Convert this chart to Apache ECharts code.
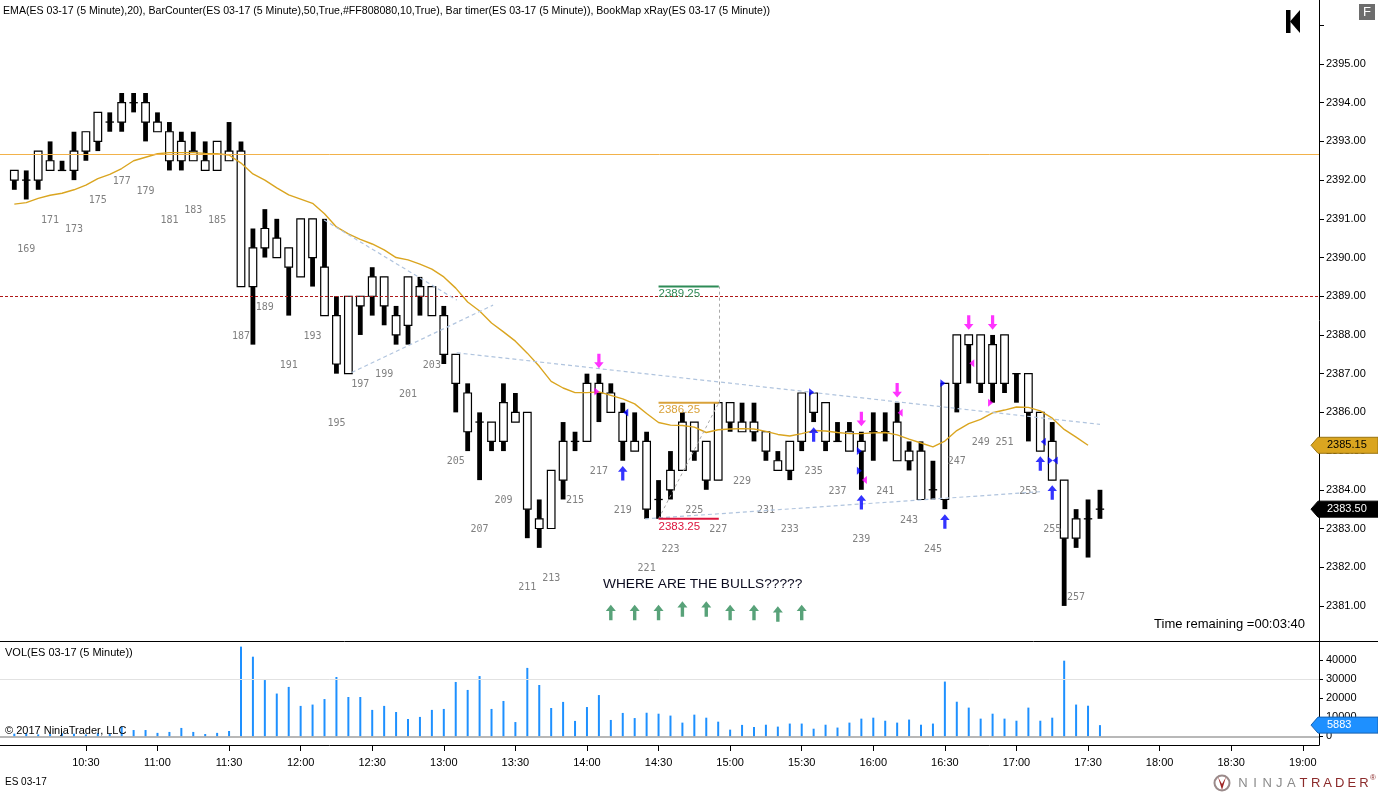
<!DOCTYPE html>
<html><head><meta charset="utf-8">
<script src="https://cdn.jsdelivr.net/npm/echarts@6/dist/echarts.min.js"></script>
<style>html,body{margin:0;padding:0;background:#fff}#c{width:1378px;height:792px}</style>
</head><body><div id="c"></div>
<script>
// ---------- data ----------
const firstBar = 168;
const times = [
 '10:00','10:05','10:10','10:15','10:20','10:25','10:30','10:35','10:40','10:45','10:50','10:55',
 '11:00','11:05','11:10','11:15','11:20','11:25','11:30','11:35','11:40','11:45','11:50','11:55',
 '12:00','12:05','12:10','12:15','12:20','12:25','12:30','12:35','12:40','12:45','12:50','12:55',
 '13:00','13:05','13:10','13:15','13:20','13:25','13:30','13:35','13:40','13:45','13:50','13:55',
 '14:00','14:05','14:10','14:15','14:20','14:25','14:30','14:35','14:40','14:45','14:50','14:55',
 '15:00','15:05','15:10','15:15','15:20','15:25','15:30','15:35','15:40','15:45','15:50','15:55',
 '16:00','16:05','16:10','16:15','16:20','16:25','16:30','16:35','16:40','16:45','16:50','16:55',
 '17:00','17:05','17:10','17:15','17:20','17:25','17:30','17:35'];
const open = [
 2392.25,2392,2392,2392.5,2392.25,2392.25,2392.75,2393,2393.5,2393.5,2394,2394,
 2393.5,2393.25,2392.5,2392.75,2392.5,2392.25,2392.75,2392.75,2389.25,2390.25,2390.5,2390.25,
 2389.5,2391,2389.75,2388.5,2387,2389,2389,2389.5,2388.5,2388.25,2389.25,2389.25,
 2388.5,2387.5,2386.5,2385.75,2385.75,2385.25,2386,2386,2383.25,2383,2384.25,2385.25,
 2385.25,2386.75,2386.5,2386,2385.25,2385.25,2383.75,2384,2384.5,2385.75,2385.25,2384.25,
 2386.25,2385.75,2385.5,2385.5,2384.75,2384.5,2385.25,2386.5,2386.25,2385.25,2385.5,2385,
 2385.5,2385.5,2385.75,2385,2385,2384,2383.75,2386.75,2388,2386.75,2387.75,2386.75,
 2387,2387,2386,2385.25,2384.25,2382.75,2383.25,2383.5];
const high = [
 2392.25,2392.25,2392.75,2393,2392.5,2393.25,2393.25,2393.75,2393.75,2394.25,2394.25,2394.25,
 2393.75,2393.5,2393.25,2393.25,2393,2393,2393.5,2393,2390.75,2391.25,2391,2390.25,
 2391,2391,2391,2389,2389,2389,2389.75,2389.5,2388.75,2389.5,2389.5,2389.25,
 2388.75,2387.5,2386.75,2386,2385.75,2386.75,2386.5,2386,2383.75,2384.5,2385.75,2385.5,
 2387,2387,2386.75,2386.25,2386,2385.5,2384.25,2385,2386,2385.75,2385.25,2386.25,
 2386.25,2386.25,2386.25,2385.5,2385,2385.25,2386.5,2386.5,2386.25,2385.75,2385.75,2385.5,
 2386,2386,2386.25,2385.25,2385.25,2384.75,2386.75,2388,2388,2388,2388,2388,
 2387,2387,2386,2385.75,2384.25,2383.5,2383.75,2384];
const low = [
 2391.75,2391.5,2391.75,2392.25,2392.25,2392,2392.5,2392.75,2393.25,2393.25,2393.75,2393,
 2393.25,2392.25,2392.25,2392.5,2392.25,2392.25,2392.5,2389.25,2387.75,2390,2390,2388.5,
 2389.5,2389.25,2388.5,2387,2387,2388,2388.5,2388.25,2387.75,2387.75,2388.5,2388.5,
 2387.25,2386,2385,2384.25,2385,2385,2385.75,2382.75,2382.5,2383,2383.75,2385,
 2385.25,2385.75,2386,2384.75,2385,2383.25,2383.25,2383.75,2384.5,2384.75,2384,2384.25,
 2385.5,2385.5,2385.25,2384.75,2384.5,2384.25,2385,2385.75,2385,2385.25,2385,2384,
 2384.75,2385.25,2384.75,2384.5,2383.75,2383.75,2383.5,2386,2386.75,2386.5,2386.25,2386.5,
 2386.25,2385.25,2385,2384.25,2381,2382.5,2382.25,2383.25];
const close = [
 2392,2392,2392.75,2392.25,2392.25,2392.75,2393.25,2393.75,2393.5,2394,2394,2393.5,
 2393.25,2392.5,2393,2392.5,2392.25,2393,2392.5,2389.25,2390.25,2390.75,2390,2389.75,
 2391,2390,2388.5,2387.25,2389,2388.75,2389.5,2388.75,2388,2389.5,2389,2388.5,
 2387.5,2386.75,2385.5,2385.75,2385.25,2386.25,2385.75,2383.5,2383,2384.5,2385.25,2385.25,
 2386.75,2386.5,2386,2385.25,2385,2383.5,2383.75,2384.5,2385.75,2385,2384.25,2386.25,
 2385.75,2385.5,2385.75,2385,2384.5,2385.25,2386.5,2386,2385.25,2385.25,2385,2385.25,
 2385.5,2385.5,2384.75,2384.75,2383.75,2384,2386.75,2388,2387.75,2388,2386.75,2388,
 2387,2386,2385,2384.25,2382.75,2383.25,2383.25,2383.5];
const volume = [
 1400,1600,1000,1200,1600,1400,1000,1700,1200,5000,3300,3300,
 1800,2300,4400,2300,1200,1800,2800,47200,41900,29600,22500,26000,
 16000,16700,19600,31200,20700,20700,13900,16000,12800,9100,10200,13900,
 14400,28600,24400,31700,14400,18600,7500,36000,27000,14900,18100,8100,
 15400,21700,8600,12300,9600,12400,11900,10900,7200,11400,9800,7700,
 3500,6000,4900,6100,5100,6700,6700,4000,6100,4600,7200,9300,
 9800,8200,7200,8800,6100,6700,28800,18200,15100,9300,11900,9300,
 8200,15100,8200,9800,39800,16700,16100,5883];
const ema20 = [
 2391.38,2391.42,2391.53,2391.61,2391.66,2391.75,2391.87,2392.04,2392.15,2392.30,2392.50,2392.59,
 2392.68,2392.71,2392.71,2392.71,2392.69,2392.68,2392.65,2392.44,2392.16,2392.00,2391.80,2391.62,
 2391.51,2391.40,2391.13,2390.79,2390.61,2390.47,2390.35,2390.20,2390.00,2389.94,2389.83,2389.70,
 2389.50,2389.21,2388.85,2388.62,2388.31,2388.08,2387.84,2387.53,2387.19,2386.80,2386.63,2386.51,
 2386.51,2386.53,2386.44,2386.35,2386.22,2385.97,2385.74,2385.67,2385.66,2385.62,2385.48,2385.55,
 2385.57,2385.58,2385.57,2385.51,2385.43,2385.39,2385.45,2385.53,2385.52,2385.48,2385.45,2385.45,
 2385.47,2385.48,2385.42,2385.31,2385.21,2385.11,2385.26,2385.53,2385.71,2385.82,2385.99,2386.06,
 2386.14,2386.13,2386.04,2385.85,2385.56,2385.36,2385.15,null];

const priceTicks = [2381,2382,2383,2384,2385,2386,2387,2388,2389,2390,2391,2392,2393,2394,2395,2396];
const priceLabels = [2381,2382,2383,2384,2385,2386,2387,2388,2389,2390,2391,2392,2393,2394,2395];
const volumeTicks = [0,10000,20000,30000,40000];
const timeTicks = ['10:30','11:00','11:30','12:00','12:30','13:00','13:30','14:00','14:30','15:00','15:30','16:00','16:30','17:00','17:30','18:00','18:30','19:00'];

// drawings (bar number, price)
const horizLineOrange = 2392.67;
const horizLineRed = 2389.0;
const trendLines = [
 [193.96, 2390.97, 205.08, 2388.90],
 [196.28, 2387.03, 208.13, 2388.77],
 [205.08, 2387.54, 259.0, 2385.69],
 [220.87, 2383.25, 253.98, 2383.95]];
const measureLines = [
 [222.0, 2383.25, 227.05, 2386.25],
 [227.05, 2386.25, 227.05, 2389.25]];
const levelPrices = [2389.25, 2386.25, 2383.25];
const levelFromBar = 222.0, levelToBar = 227.05;
const sellArrows = [[217,2387.33],[239,2385.83],[242,2386.57],[248,2388.32],[250,2388.32]];
const buyArrows = [[219,2384.43],[235,2385.43],[239,2383.68],[246,2383.18],[254,2384.68],[255,2383.93]];
const blueRightTri = [[235,2386.52],[239,2385.0],[239,2384.49],[246,2386.75],[255,2384.76]];
const blueLeftTri = [[219,2386.0],[254,2385.24],[255,2384.76]];
const magRightTri = [[217,2386.54],[250,2386.25]];
const magLeftTri = [[239,2384.25],[242,2385.99],[248,2387.27]];
const bullArrows = [[218,2380.83],[220,2380.83],[222,2380.83],[224,2380.92],[226,2380.92],[228,2380.83],[230,2380.83],[232,2380.79],[234,2380.83]];
const lastClose = 2383.50, lastEma = 2385.15, lastVolume = 5883;

// ---------- helpers ----------
const FONT = '"Liberation Sans", Arial, sans-serif';
const toMin = s => { const p = s.split(':'); return (+p[0]) * 60 + (+p[1]); };
const fmtTime = m => String(Math.floor(m / 60)).padStart(2, '0') + ':' + String(Math.round(m % 60)).padStart(2, '0');
const x0 = toMin(times[0]);
const barX = n => x0 + (n - firstBar) * 5;
const pts = arr => arr.map(a => [barX(a[0]), a[1]]);
const lastBar = firstBar + times.length - 1;

const candleData = times.map((t, i) => [toMin(t), open[i], high[i], low[i], close[i]]);
const counterData = times.map((t, i) => [toMin(t), low[i], firstBar + i]);
const emaData = times.map((t, i) => [toMin(t), ema20[i]]);
const volData = times.map((t, i) => [toMin(t), volume[i]]);

const upPath = 'path://M5,0L10,6L6.7,6L6.7,15L3.3,15L3.3,6L0,6Z';
const downPath = 'path://M3.3,0L6.7,0L6.7,9L10,9L5,15L0,9L3.3,9Z';

const chart = echarts.init(document.getElementById('c'), null, {renderer: 'canvas'});

const XMIN = 594, XMAX = 1146.8;

function triSeries(data, color, dir) {
  return {type: 'scatter', xAxisIndex: 0, yAxisIndex: 0, data: pts(data), symbol: 'triangle',
    symbolSize: [8, 5], symbolRotate: dir === 'right' ? -90 : 90,
    symbolOffset: [dir === 'right' ? -2 : 3, 0],
    itemStyle: {color: color}, z: 6, silent: true};
}

const levelColors = ['#2E8B57', '#D9A23A', '#DC143C'];
const markerFill = ['#DAA520', '#000000'];
const markerStroke = ['#9a7410', '#000000'];
const markerText = ['#000000', '#ffffff'];

const option = {
  animation: false,
  grid: [
    {left: 0, top: 0, width: 1319, height: 641},
    {left: 0, top: 641, width: 1319, height: 104}
  ],
  xAxis: [
    {type: 'value', gridIndex: 0, min: XMIN, max: XMAX, show: false, splitLine: {show: false}},
    {type: 'value', gridIndex: 1, min: XMIN, max: XMAX,
      axisLine: {show: true, onZero: false, lineStyle: {color: '#000', width: 1}},
      axisTick: {show: true, customValues: timeTicks.map(toMin), length: 6, lineStyle: {color: '#000'}},
      axisLabel: {customValues: timeTicks.map(toMin), formatter: v => fmtTime(v), margin: 12,
        fontSize: 11, color: '#000', fontFamily: FONT},
      splitLine: {show: false}}
  ],
  yAxis: [
    {type: 'value', gridIndex: 0, position: 'right', min: 2380.094, max: 2396.653,
      axisLine: {show: true, onZero: false, lineStyle: {color: '#000'}},
      axisTick: {show: true, customValues: priceTicks, length: 5, lineStyle: {color: '#000'}},
      axisLabel: {customValues: priceLabels, formatter: v => v.toFixed(2), margin: 7,
        fontSize: 11, color: '#000', fontFamily: FONT},
      splitLine: {show: false}},
    {type: 'value', gridIndex: 1, position: 'right', min: -4579, max: 50158,
      axisLine: {show: true, onZero: false, lineStyle: {color: '#000'}},
      axisTick: {show: true, customValues: volumeTicks, length: 4, lineStyle: {color: '#000'}},
      axisLabel: {customValues: volumeTicks, formatter: v => String(v), margin: 7,
        fontSize: 11, color: '#000', fontFamily: FONT},
      splitLine: {show: false}}
  ],
  series: [
    {type: 'custom', name: 'candles', xAxisIndex: 0, yAxisIndex: 0, z: 2, silent: true,
      data: candleData, encode: {x: 0, y: [1, 2, 3, 4]},
      renderItem: (params, api) => {
        const t = api.value(0);
        const pO = api.coord([t, api.value(1)]), pH = api.coord([t, api.value(2)]);
        const pL = api.coord([t, api.value(3)]), pC = api.coord([t, api.value(4)]);
        const x = pH[0];
        const top = Math.min(pO[1], pC[1]), bot = Math.max(pO[1], pC[1]);
        const children = [
          {type: 'rect', shape: {x: x - 2.4, y: pH[1], width: 4.8, height: pL[1] - pH[1]}, style: {fill: '#000'}}
        ];
        if (bot - top < 1) {
          children.push({type: 'line', shape: {x1: x - 4.2, y1: top, x2: x + 4.2, y2: top}, style: {stroke: '#000', lineWidth: 1.3}});
        } else {
          children.push({type: 'rect', shape: {x: x - 3.8, y: top, width: 7.6, height: bot - top},
            style: {fill: '#fff', stroke: '#000', lineWidth: 1.2}});
        }
        return {type: 'group', children: children};
      }},
    {type: 'custom', name: 'counter', xAxisIndex: 0, yAxisIndex: 0, z: 2, silent: true,
      data: counterData, encode: {x: 0, y: 1},
      renderItem: (params, api) => {
        const n = api.value(2);
        if (n % 2 === 0 || n === lastBar) return null;
        const p = api.coord([api.value(0), api.value(1)]);
        return {type: 'text', style: {x: p[0], y: p[1] + 49.5, text: String(n), fill: '#808080',
          font: '10px "DejaVu Sans Mono", monospace', align: 'center', verticalAlign: 'middle'}};
      }},
    {type: 'line', name: 'EMA', xAxisIndex: 0, yAxisIndex: 0, data: emaData, showSymbol: false, z: 4,
      silent: true, lineStyle: {color: '#DAA520', width: 1.4}, itemStyle: {color: '#DAA520'},
      markLine: {symbol: ['none', 'none'], silent: true, label: {show: false}, animation: false,
        data: [
          {yAxis: horizLineOrange, lineStyle: {color: '#F2B24A', width: 1, type: 'solid'}},
          {yAxis: horizLineRed, lineStyle: {color: '#B01818', width: 1, type: [3, 2]}}
        ].concat(trendLines.map(l => [
          {coord: [barX(l[0]), l[1]], lineStyle: {color: '#B0C4DE', width: 1.2, type: [4, 3]}},
          {coord: [barX(l[2]), l[3]]}
        ])).concat(measureLines.map(l => [
          {coord: [barX(l[0]), l[1]], lineStyle: {color: '#A9A9A9', width: 1, type: [3, 3]}},
          {coord: [barX(l[2]), l[3]]}
        ]))
      }},
    {type: 'custom', name: 'levels', xAxisIndex: 0, yAxisIndex: 0, z: 5, silent: true,
      data: levelPrices.map(p => [barX(levelFromBar), barX(levelToBar), p]), encode: {x: [0, 1], y: 2},
      renderItem: (params, api) => {
        const a = api.coord([api.value(0), api.value(2)]), b = api.coord([api.value(1), api.value(2)]);
        const c = levelColors[params.dataIndex];
        return {type: 'group', children: [
          {type: 'line', shape: {x1: a[0], y1: a[1], x2: b[0], y2: b[1]}, style: {stroke: c, lineWidth: 2}},
          {type: 'text', style: {x: a[0], y: a[1] + 7.5, text: api.value(2).toFixed(2), fill: c,
            font: '11.5px ' + FONT, align: 'left', verticalAlign: 'middle'}}
        ]};
      }},
    {type: 'scatter', name: 'sell', xAxisIndex: 0, yAxisIndex: 0, data: pts(sellArrows), symbol: downPath,
      symbolSize: [9.5, 14.5], itemStyle: {color: '#FF00FF'}, z: 6, silent: true},
    {type: 'scatter', name: 'buy', xAxisIndex: 0, yAxisIndex: 0, data: pts(buyArrows), symbol: upPath,
      symbolSize: [9.5, 14.5], itemStyle: {color: '#0000FF'}, z: 6, silent: true},
    triSeries(blueRightTri, '#0000FF', 'right'),
    triSeries(blueLeftTri, '#0000FF', 'left'),
    triSeries(magRightTri, '#FF00FF', 'right'),
    triSeries(magLeftTri, '#FF00FF', 'left'),
    {type: 'scatter', name: 'bulls', xAxisIndex: 0, yAxisIndex: 0, data: pts(bullArrows), symbol: upPath,
      symbolSize: [10, 15.5], itemStyle: {color: '#2E8B57'}, z: 6, silent: true},
    {type: 'custom', name: 'priceMarkers', xAxisIndex: 0, yAxisIndex: 0, z: 20, clip: false, silent: true,
      data: [[600, lastEma], [600, lastClose]], encode: {x: 0, y: 1},
      renderItem: (params, api) => {
        const y = api.coord([api.value(0), api.value(1)])[1];
        const i = params.dataIndex;
        return {type: 'group', children: [
          {type: 'polygon', shape: {points: [[1311, y], [1318, y - 8], [1378, y - 8], [1378, y + 8], [1318, y + 8]]},
            style: {fill: markerFill[i], stroke: markerStroke[i], lineWidth: 1}},
          {type: 'text', style: {x: 1327, y: y, text: api.value(1).toFixed(2), fill: markerText[i],
            font: '11px ' + FONT, align: 'left', verticalAlign: 'middle'}}
        ]};
      }},
    {type: 'bar', name: 'VOL', xAxisIndex: 1, yAxisIndex: 1, data: volData, barWidth: 2, z: 3,
      itemStyle: {color: '#1E90FF'}, silent: true,
      markLine: {symbol: ['none', 'none'], silent: true, label: {show: false}, animation: false,
        data: [
          {yAxis: 0, lineStyle: {color: '#A0A0A0', width: 1.5, type: 'solid'}},
          {yAxis: 30000, lineStyle: {color: '#E2E2E2', width: 1, type: 'solid'}}
        ]}},
    {type: 'custom', name: 'volMarker', xAxisIndex: 1, yAxisIndex: 1, z: 20, clip: false, silent: true,
      data: [[600, lastVolume]], encode: {x: 0, y: 1},
      renderItem: (params, api) => {
        const y = api.coord([api.value(0), api.value(1)])[1];
        return {type: 'group', children: [
          {type: 'polygon', shape: {points: [[1311, y], [1318, y - 8], [1378, y - 8], [1378, y + 8], [1318, y + 8]]},
            style: {fill: '#1E90FF', stroke: '#1560b0', lineWidth: 1}},
          {type: 'text', style: {x: 1327, y: y, text: String(api.value(1)), fill: '#fff',
            font: '11px ' + FONT, align: 'left', verticalAlign: 'middle'}}
        ]};
      }}
  ],
  graphic: [
    {type: 'text', x: 3, y: 11, z: 30, style: {text: 'EMA(ES 03-17 (5 Minute),20), BarCounter(ES 03-17 (5 Minute),50,True,#FF808080,10,True), Bar timer(ES 03-17 (5 Minute)), BookMap xRay(ES 03-17 (5 Minute))',
      fill: '#000', font: '10.6px ' + FONT, verticalAlign: 'middle'}},
    {type: 'text', x: 603, y: 584, z: 30, style: {text: 'WHERE ARE THE BULLS?????', fill: '#0a0a1e', font: '13.7px ' + FONT, verticalAlign: 'middle'}},
    {type: 'text', x: 1305, y: 624.5, z: 30, style: {text: 'Time remaining =00:03:40', fill: '#000', font: '13px ' + FONT, align: 'right', verticalAlign: 'middle'}},
    {type: 'text', x: 5, y: 653, z: 30, style: {text: 'VOL(ES 03-17 (5 Minute))', fill: '#000', font: '11px ' + FONT, verticalAlign: 'middle'}},
    {type: 'text', x: 5, y: 731, z: 30, style: {text: '\u00a9 2017 NinjaTrader, LLC', fill: '#000', font: '11px ' + FONT, verticalAlign: 'middle'}},
    {type: 'text', x: 5, y: 782, z: 30, style: {text: 'ES 03-17', fill: '#000', font: '10px ' + FONT, verticalAlign: 'middle'}},
    {type: 'line', z: 30, shape: {x1: 0, y1: 641.5, x2: 1378, y2: 641.5}, style: {stroke: '#000', lineWidth: 1}},
    {type: 'rect', z: 30, shape: {x: 1286, y: 10, width: 4.5, height: 23}, style: {fill: '#000'}},
    {type: 'polygon', z: 30, shape: {points: [[1290, 21.5], [1300, 10], [1300, 33]]}, style: {fill: '#000'}},
    {type: 'rect', z: 30, shape: {x: 1359, y: 4, width: 16, height: 16}, style: {fill: '#6d6d6d'}},
    {type: 'text', x: 1367, y: 12, z: 31, style: {text: 'F', fill: '#fff', font: '13px ' + FONT, align: 'center', verticalAlign: 'middle'}},
    {type: 'circle', z: 30, shape: {cx: 1222, cy: 783, r: 7.5}, style: {fill: 'none', stroke: '#9a8a8a', lineWidth: 2}},
    {type: 'polygon', z: 31, shape: {points: [[1218, 777], [1222, 790], [1226, 777], [1222, 784]]}, style: {fill: '#a02828'}}
  ].concat('NINJATRADER'.split('').map((ch, i) => ({
    type: 'text', x: 1243 + i * 12.1, y: 783, z: 30,
    style: {text: ch, fill: i < 5 ? '#8a8a8a' : '#8b2a2a', font: '13px ' + FONT, align: 'center', verticalAlign: 'middle'}
  }))).concat([
    {type: 'text', x: 1373, y: 778, z: 30, style: {text: '\u00ae', fill: '#8b2a2a', font: '8px ' + FONT, align: 'center', verticalAlign: 'middle'}}
  ])
};
chart.setOption(option);
</script>
</body></html>
